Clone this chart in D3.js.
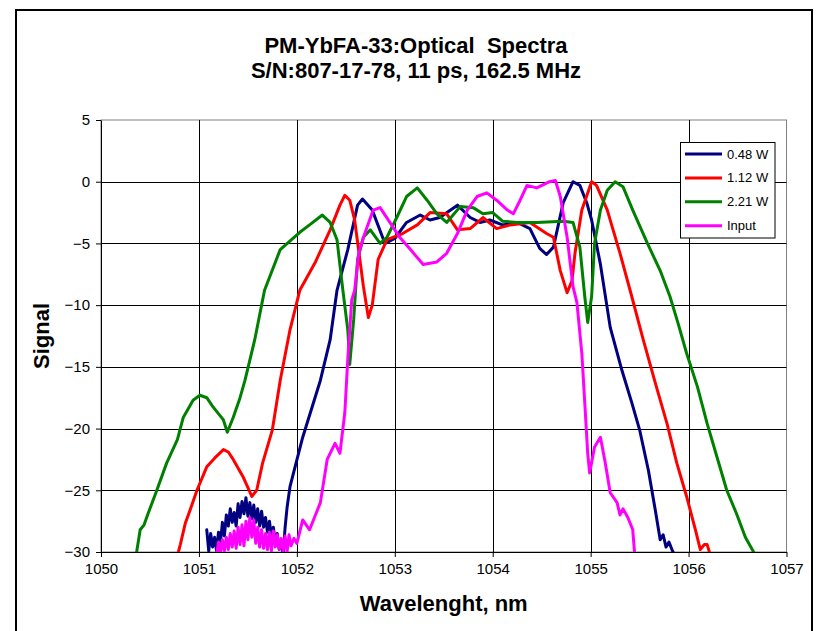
<!DOCTYPE html>
<html>
<head>
<meta charset="utf-8">
<script src="https://cdn.jsdelivr.net/npm/d3@7"></script>
<style>
  body { margin: 0; background: #fff; }
  text { font-family: "Liberation Sans", Arial, sans-serif; }
</style>
</head>
<body>
<div id="chart"></div>
<script>
// spectra: [wavelength nm, signal]
var seriesNames = ["0.48 W", "1.12 W", "2.21 W", "Input"];
var seriesColors = ["#000080", "#ff0000", "#008000", "#ff00ff"];

var blue = [
  [1051.08,-28.2],[1051.10,-29.9],[1051.12,-28.5],[1051.14,-29.6],[1051.16,-28.8],
  [1051.18,-29.9],[1051.20,-28.4],[1051.22,-29.2],[1051.24,-27.6],[1051.26,-28.7],
  [1051.28,-27.0],[1051.30,-27.9],[1051.32,-26.5],[1051.34,-27.6],[1051.36,-26.8],
  [1051.38,-27.9],[1051.40,-26.1],[1051.42,-27.2],[1051.44,-25.9],[1051.46,-26.9],
  [1051.48,-25.6],[1051.50,-27.1],[1051.52,-26.0],[1051.54,-27.3],[1051.56,-26.2],
  [1051.58,-27.6],[1051.60,-26.5],[1051.62,-27.9],[1051.64,-26.7],[1051.66,-28.0],
  [1051.68,-27.2],[1051.70,-28.4],[1051.72,-27.5],[1051.74,-28.7],[1051.76,-28.0],
  [1051.78,-29.2],[1051.80,-28.5],[1051.82,-29.8],[1051.84,-29.1],[1051.86,-30.2],
  [1051.88,-28.0],[1051.90,-26.4],[1051.93,-24.7],[1052.06,-20.7],[1052.24,-16.1],
  [1052.34,-12.8],[1052.41,-8.8],[1052.52,-5.5],[1052.62,-1.9],[1052.67,-1.4],
  [1052.77,-2.3],[1052.90,-5.0],[1053.00,-4.6],[1053.12,-3.3],[1053.26,-2.7],
  [1053.36,-3.1],[1053.46,-2.9],[1053.64,-1.9],[1053.77,-2.9],[1053.87,-3.3],
  [1053.97,-3.1],[1054.10,-3.5],[1054.25,-3.3],[1054.38,-3.8],[1054.48,-5.4],
  [1054.55,-5.9],[1054.62,-5.3],[1054.72,-1.7],[1054.82,0.0],[1054.89,-0.3],
  [1054.96,-1.7],[1055.01,-3.1],[1055.10,-6.7],[1055.20,-11.8],[1055.32,-15.3],
  [1055.42,-17.9],[1055.50,-20.1],[1055.59,-23.4],[1055.66,-26.6],[1055.71,-29.0],
  [1055.74,-28.6],[1055.77,-29.6],[1055.80,-29.2],[1055.83,-29.8],[1055.86,-30.3]
];

var red = [
  [1050.79,-30.0],[1050.81,-29.4],[1050.86,-27.7],[1050.91,-26.6],[1050.98,-25.0],
  [1051.08,-23.1],[1051.16,-22.4],[1051.25,-21.7],[1051.30,-21.9],[1051.35,-22.5],
  [1051.45,-23.9],[1051.54,-25.5],[1051.59,-25.0],[1051.65,-22.8],[1051.75,-20.1],
  [1051.83,-16.1],[1051.93,-12.0],[1052.03,-8.8],[1052.19,-6.5],[1052.34,-3.9],
  [1052.44,-1.9],[1052.49,-1.1],[1052.54,-1.5],[1052.59,-3.1],[1052.68,-8.5],
  [1052.73,-11.0],[1052.77,-10.0],[1052.83,-6.3],[1052.92,-4.7],[1053.08,-4.2],
  [1053.23,-3.5],[1053.36,-2.5],[1053.53,-2.6],[1053.64,-3.9],[1053.77,-3.8],
  [1053.90,-2.9],[1054.04,-3.8],[1054.18,-3.5],[1054.38,-3.3],[1054.55,-4.2],
  [1054.62,-4.5],[1054.69,-7.2],[1054.76,-9.0],[1054.81,-8.0],[1054.84,-5.8],
  [1054.91,-2.3],[1055.01,0.0],[1055.06,-0.3],[1055.17,-2.3],[1055.30,-5.8],
  [1055.42,-9.3],[1055.53,-12.6],[1055.66,-16.3],[1055.78,-19.6],[1055.88,-22.8],
  [1055.98,-25.5],[1056.07,-28.2],[1056.12,-29.8],[1056.16,-29.4],[1056.19,-29.4],
  [1056.22,-30.2]
];

var green = [
  [1050.36,-30.2],[1050.40,-28.2],[1050.44,-27.8],[1050.48,-26.9],[1050.57,-25.0],
  [1050.67,-22.8],[1050.78,-20.9],[1050.84,-19.1],[1050.94,-17.7],[1051.01,-17.3],
  [1051.08,-17.5],[1051.14,-18.2],[1051.25,-19.3],[1051.29,-20.3],[1051.35,-19.1],
  [1051.42,-17.5],[1051.47,-16.1],[1051.57,-12.8],[1051.67,-8.8],[1051.83,-5.5],
  [1052.03,-4.1],[1052.13,-3.5],[1052.26,-2.7],[1052.34,-3.3],[1052.41,-4.7],
  [1052.47,-8.8],[1052.52,-12.0],[1052.54,-14.8],[1052.58,-11.2],[1052.62,-6.3],
  [1052.68,-4.5],[1052.75,-3.9],[1052.85,-5.0],[1052.92,-4.5],[1053.02,-2.9],
  [1053.12,-1.2],[1053.23,-0.5],[1053.33,-1.5],[1053.43,-2.6],[1053.53,-3.3],
  [1053.67,-2.0],[1053.80,-2.1],[1053.90,-2.6],[1054.00,-2.5],[1054.10,-3.2],
  [1054.25,-3.3],[1054.45,-3.3],[1054.72,-3.2],[1054.82,-3.3],[1054.89,-5.3],
  [1054.94,-9.3],[1054.97,-11.4],[1055.01,-9.3],[1055.04,-5.0],[1055.10,-2.3],
  [1055.17,-0.7],[1055.25,0.0],[1055.33,-0.4],[1055.43,-2.3],[1055.58,-5.0],
  [1055.71,-7.2],[1055.81,-9.3],[1055.89,-11.4],[1055.98,-13.9],[1056.09,-16.6],
  [1056.19,-19.6],[1056.29,-22.3],[1056.39,-25.0],[1056.49,-26.9],[1056.58,-28.8],
  [1056.65,-29.8],[1056.68,-30.2]
];

var input = [
  [1051.18,-30.2],[1051.20,-29.2],[1051.22,-30.1],[1051.24,-29.0],[1051.26,-29.9],
  [1051.28,-28.8],[1051.30,-29.8],[1051.32,-28.5],[1051.34,-29.6],[1051.36,-28.3],
  [1051.38,-29.7],[1051.40,-28.0],[1051.42,-29.4],[1051.44,-27.8],[1051.46,-29.5],
  [1051.48,-27.5],[1051.50,-29.0],[1051.52,-27.2],[1051.54,-28.8],[1051.56,-27.4],
  [1051.58,-29.3],[1051.60,-28.0],[1051.62,-29.6],[1051.64,-28.2],[1051.66,-29.7],
  [1051.68,-28.5],[1051.70,-29.8],[1051.72,-28.4],[1051.74,-29.9],[1051.76,-28.3],
  [1051.78,-29.6],[1051.80,-28.6],[1051.82,-29.8],[1051.84,-28.9],[1051.86,-29.9],
  [1051.88,-28.7],[1051.90,-30.0],[1051.92,-28.6],[1051.94,-29.5],[1051.97,-28.9],
  [1052.00,-29.3],[1052.06,-27.4],[1052.13,-28.2],[1052.24,-26.0],[1052.31,-22.5],
  [1052.39,-21.2],[1052.44,-22.0],[1052.49,-18.7],[1052.52,-14.4],[1052.56,-9.6],
  [1052.59,-8.8],[1052.63,-5.9],[1052.68,-4.5],[1052.78,-2.3],[1052.85,-2.1],
  [1052.95,-3.3],[1053.05,-4.5],[1053.16,-5.5],[1053.29,-6.7],[1053.43,-6.5],
  [1053.53,-5.8],[1053.64,-4.2],[1053.74,-2.3],[1053.84,-1.2],[1053.94,-0.9],
  [1054.04,-1.5],[1054.15,-2.3],[1054.21,-2.6],[1054.28,-1.5],[1054.35,-0.3],
  [1054.45,-0.5],[1054.58,0.0],[1054.64,0.1],[1054.69,-1.2],[1054.76,-4.5],
  [1054.82,-8.5],[1054.86,-9.8],[1054.91,-13.9],[1054.94,-17.9],[1054.97,-22.0],
  [1054.99,-23.6],[1055.04,-21.5],[1055.10,-20.7],[1055.15,-22.8],[1055.20,-25.2],
  [1055.27,-26.0],[1055.30,-27.0],[1055.33,-26.5],[1055.38,-27.2],[1055.43,-28.2],
  [1055.45,-30.2]
];

var xTicks = [1050, 1051, 1052, 1053, 1054, 1055, 1056, 1057];
var yTicks = [5, 0, -5, -10, -15, -20, -25, -30];

var W = 817, H = 631;
var pLeft = 101, pRight = 786.5, pTop = 120, pBottom = 552;

var x = d3.scaleLinear().domain([1050, 1057]).range([pLeft, pRight]);
var y = d3.scaleLinear().domain([-30, 5]).range([pBottom, pTop]);

var svg = d3.select("#chart").append("svg")
            .attr("width", W)
            .attr("height", H);

// outer frame
svg.append("rect")
   .attr("x", 16).attr("y", 10)
   .attr("width", 796).attr("height", 640)
   .attr("fill", "#fff")
   .attr("stroke", "#000")
   .attr("stroke-width", 2);

// title (two spaces kept on purpose)
var title = svg.append("text")
   .attr("text-anchor", "middle")
   .attr("font-weight", "bold")
   .attr("font-size", 22)
   .attr("fill", "#000")
   .style("white-space", "pre");
title.append("tspan").attr("x", 416).attr("y", 53).text("PM-YbFA-33:Optical  Spectra");
title.append("tspan").attr("x", 416).attr("y", 78).text("S/N:807-17-78, 11 ps, 162.5 MHz");

// plot border (grey top and right)
svg.append("rect")
   .attr("x", pLeft).attr("y", pTop)
   .attr("width", pRight - pLeft).attr("height", pBottom - pTop)
   .attr("fill", "none")
   .attr("stroke", "#808080")
   .attr("stroke-width", 1);

// gridlines
svg.append("g").selectAll("line")
   .data(yTicks.filter(d => d > -30 && d < 5))
   .enter().append("line")
   .attr("x1", pLeft).attr("x2", pRight)
   .attr("y1", d => Math.round(y(d)) + 0.5)
   .attr("y2", d => Math.round(y(d)) + 0.5)
   .attr("stroke", "#000");

svg.append("g").selectAll("line")
   .data(xTicks.filter(d => d > 1050 && d < 1057))
   .enter().append("line")
   .attr("y1", pTop).attr("y2", pBottom)
   .attr("x1", d => Math.round(x(d)) + 0.5)
   .attr("x2", d => Math.round(x(d)) + 0.5)
   .attr("stroke", "#000");

// axes
var xAxis = d3.axisBottom(x).tickValues(xTicks).tickFormat(d3.format("d"))
              .tickSize(5).tickSizeOuter(0).tickPadding(6);
var yAxis = d3.axisLeft(y).tickValues(yTicks).tickFormat(d3.format("d"))
              .tickSize(5).tickSizeOuter(0).tickPadding(6);

svg.append("g")
   .attr("class", "xaxis")
   .attr("transform", "translate(0," + pBottom + ")")
   .call(xAxis);

svg.append("g")
   .attr("class", "yaxis")
   .attr("transform", "translate(" + pLeft + ",0)")
   .call(yAxis);

svg.selectAll(".xaxis text, .yaxis text")
   .attr("font-family", "'Liberation Sans', Arial, sans-serif")
   .attr("font-size", 15)
   .attr("fill", "#000");
svg.selectAll(".xaxis path, .xaxis line, .yaxis path, .yaxis line").attr("stroke", "#000");

// clip for curves
svg.append("clipPath").attr("id", "plotclip")
   .append("rect")
   .attr("x", pLeft).attr("y", pTop - 5)
   .attr("width", pRight - pLeft).attr("height", pBottom - pTop + 5);

var line = d3.line()
             .x(d => x(d[0]))
             .y(d => y(d[1]));

var allSeries = [blue, red, green, input];

svg.append("g").attr("clip-path", "url(#plotclip)")
   .selectAll("path")
   .data(allSeries)
   .enter().append("path")
   .attr("d", line)
   .attr("fill", "none")
   .attr("stroke", (d, i) => seriesColors[i])
   .attr("stroke-width", 3)
   .attr("stroke-linejoin", "round")
   .attr("stroke-linecap", "round");

// axis titles
svg.append("text")
   .attr("text-anchor", "middle")
   .attr("font-weight", "bold")
   .attr("font-size", 22)
   .attr("transform", "translate(49," + ((pTop + pBottom) / 2) + ")rotate(-90)")
   .text("Signal");

svg.append("text")
   .attr("text-anchor", "middle")
   .attr("font-weight", "bold")
   .attr("font-size", 22)
   .attr("x", (pLeft + pRight) / 2)
   .attr("y", 611)
   .text("Wavelenght, nm");

// legend
var lg = svg.append("g");
lg.append("rect")
  .attr("x", 680.5).attr("y", 142.5)
  .attr("width", 94.5).attr("height", 95.5)
  .attr("fill", "#fff")
  .attr("stroke", "#000");

var rows = lg.selectAll("g.row")
  .data(seriesNames)
  .enter().append("g")
  .attr("class", "row")
  .attr("transform", (d, i) => "translate(0," + (154 + i * 23.9) + ")");

rows.append("line")
  .attr("x1", 685).attr("x2", 722)
  .attr("stroke", (d, i) => seriesColors[i])
  .attr("stroke-width", 3);

rows.append("text")
  .attr("x", 727)
  .attr("dy", "0.35em")
  .attr("font-size", 13)
  .text(d => d);
</script>
</body>
</html>
